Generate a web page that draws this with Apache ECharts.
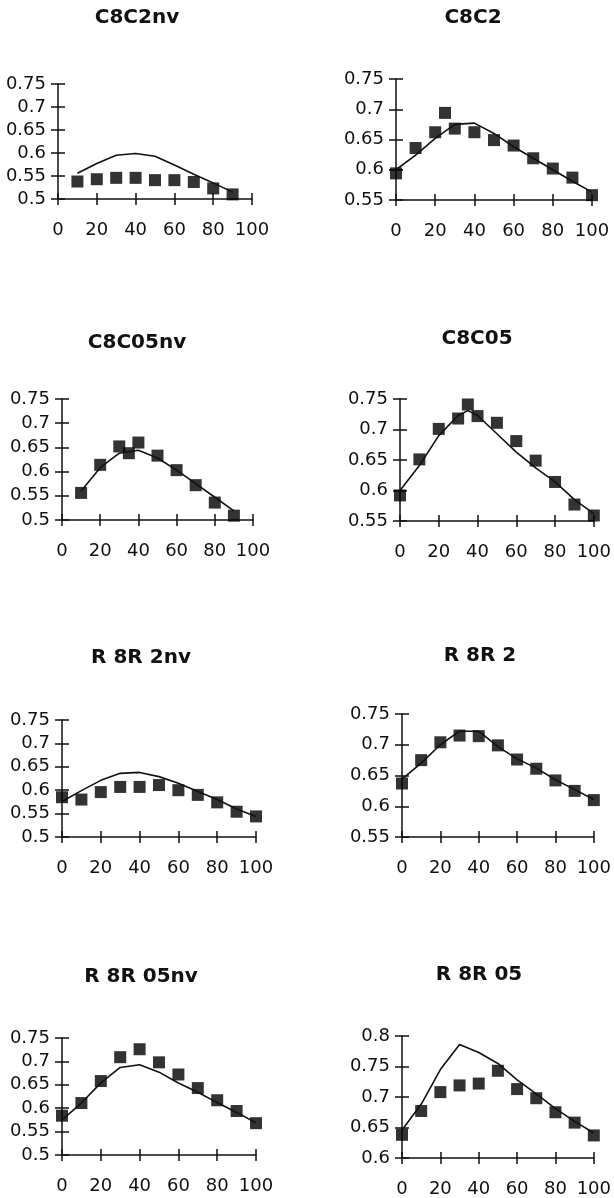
<!DOCTYPE html>
<html>
<head>
<meta charset="utf-8">
<script src="https://cdn.jsdelivr.net/npm/echarts@6/dist/echarts.min.js"></script>
<style>
html,body{margin:0;padding:0;background:#fff;}
#chart{width:614px;height:1198px;}
</style>
</head>
<body>
<div id="chart"></div>
<script>
// ---- data ----
const titles = ['C8C2nv', 'C8C2', 'C8C05nv', 'C8C05', 'R 8R 2nv', 'R 8R 2', 'R 8R 05nv', 'R 8R 05'];
const xTickLabels = [0, 20, 40, 60, 80, 100];

const c8c2nvPtX = [10, 20, 30, 40, 50, 60, 70, 80, 90];
const c8c2nvPtY = [0.538, 0.543, 0.546, 0.546, 0.541, 0.541, 0.537, 0.523, 0.510];
const c8c2nvLnX = [10, 20, 30, 40, 50, 60, 70, 80, 90];
const c8c2nvLnY = [0.556, 0.577, 0.595, 0.599, 0.593, 0.574, 0.554, 0.535, 0.515];

const c8c2PtX = [0, 10, 20, 25, 30, 40, 50, 60, 70, 80, 90, 100];
const c8c2PtY = [0.594, 0.636, 0.662, 0.694, 0.668, 0.662, 0.649, 0.640, 0.619, 0.602, 0.587, 0.558];
const c8c2LnX = [0, 10, 20, 30, 40, 50, 60, 70, 80, 90, 100];
const c8c2LnY = [0.600, 0.624, 0.652, 0.675, 0.677, 0.660, 0.638, 0.619, 0.600, 0.581, 0.563];

const c8c05nvPtX = [10, 20, 30, 35, 40, 50, 60, 70, 80, 90];
const c8c05nvPtY = [0.556, 0.614, 0.652, 0.638, 0.660, 0.633, 0.603, 0.572, 0.536, 0.509];
const c8c05nvLnX = [10, 20, 30, 40, 50, 60, 70, 80, 90];
const c8c05nvLnY = [0.560, 0.608, 0.638, 0.644, 0.628, 0.603, 0.575, 0.547, 0.519];

const c8c05PtX = [0, 10, 20, 30, 35, 40, 50, 60, 70, 80, 90, 100];
const c8c05PtY = [0.592, 0.651, 0.701, 0.718, 0.741, 0.722, 0.711, 0.681, 0.649, 0.614, 0.577, 0.559];
const c8c05LnX = [0, 10, 20, 30, 35, 40, 50, 60, 70, 80, 90, 100];
const c8c05LnY = [0.600, 0.641, 0.690, 0.723, 0.731, 0.723, 0.693, 0.663, 0.637, 0.614, 0.585, 0.562];

const r8r2nvPtX = [0, 10, 20, 30, 40, 50, 60, 70, 80, 90, 100];
const r8r2nvPtY = [0.585, 0.580, 0.596, 0.607, 0.607, 0.611, 0.600, 0.590, 0.574, 0.554, 0.544];
const r8r2nvLnX = [0, 10, 20, 30, 40, 50, 60, 70, 80, 90, 100];
const r8r2nvLnY = [0.576, 0.599, 0.621, 0.636, 0.638, 0.629, 0.615, 0.597, 0.580, 0.560, 0.544];

const r8r2PtX = [0, 10, 20, 30, 40, 50, 60, 70, 80, 90, 100];
const r8r2PtY = [0.637, 0.675, 0.704, 0.715, 0.714, 0.699, 0.676, 0.661, 0.642, 0.625, 0.610];
const r8r2LnX = [0, 10, 20, 30, 40, 50, 60, 70, 80, 90, 100];
const r8r2LnY = [0.644, 0.670, 0.700, 0.722, 0.722, 0.697, 0.677, 0.662, 0.643, 0.627, 0.611];

const r8r05nvPtX = [0, 10, 20, 30, 40, 50, 60, 70, 80, 90, 100];
const r8r05nvPtY = [0.584, 0.611, 0.658, 0.709, 0.726, 0.698, 0.672, 0.643, 0.617, 0.594, 0.568];
const r8r05nvLnX = [0, 10, 20, 30, 40, 50, 60, 70, 80, 90, 100];
const r8r05nvLnY = [0.575, 0.611, 0.654, 0.687, 0.693, 0.677, 0.654, 0.634, 0.612, 0.591, 0.569];

const r8r05PtX = [0, 10, 20, 30, 40, 50, 60, 70, 80, 90, 100];
const r8r05PtY = [0.638, 0.677, 0.708, 0.719, 0.722, 0.743, 0.713, 0.698, 0.675, 0.658, 0.637];
const r8r05LnX = [0, 10, 20, 30, 40, 50, 60, 70, 80, 90, 100];
const r8r05LnY = [0.646, 0.688, 0.745, 0.786, 0.773, 0.755, 0.728, 0.705, 0.681, 0.660, 0.641];

const yRanges = [[0.5, 0.75], [0.55, 0.75], [0.5, 0.75], [0.55, 0.75], [0.5, 0.75], [0.55, 0.75], [0.5, 0.75], [0.6, 0.8]];

const pointsX = [c8c2nvPtX, c8c2PtX, c8c05nvPtX, c8c05PtX, r8r2nvPtX, r8r2PtX, r8r05nvPtX, r8r05PtX];
const pointsY = [c8c2nvPtY, c8c2PtY, c8c05nvPtY, c8c05PtY, r8r2nvPtY, r8r2PtY, r8r05nvPtY, r8r05PtY];
const linesX = [c8c2nvLnX, c8c2LnX, c8c05nvLnX, c8c05LnX, r8r2nvLnX, r8r2LnX, r8r05nvLnX, r8r05LnX];
const linesY = [c8c2nvLnY, c8c2LnY, c8c05nvLnY, c8c05LnY, r8r2nvLnY, r8r2LnY, r8r05nvLnY, r8r05LnY];

// ---- layout ----
const grids = [
  {left: 58, top: 84, width: 194, height: 115},
  {left: 396, top: 79, width: 196, height: 121},
  {left: 62, top: 399, width: 191, height: 121},
  {left: 400, top: 399, width: 196, height: 122},
  {left: 62, top: 720, width: 194, height: 117},
  {left: 402, top: 714, width: 195, height: 123},
  {left: 62, top: 1038, width: 194, height: 117},
  {left: 402, top: 1036, width: 195, height: 123}
];
const titlePos = [[137, 18], [473, 18], [137, 343], [477, 339], [141, 658], [480, 656], [141, 977], [479, 975]];

const ink = '#111';
const labelFont = {color: ink, fontSize: 18, fontFamily: 'DejaVu Sans'};

const option = {
  backgroundColor: '#fff',
  animation: false,
  grid: [], xAxis: [], yAxis: [], series: [], graphic: []
};

grids.forEach((g, i) => {
  option.grid.push(Object.assign({containLabel: false}, g));
  const [ymin, ymax] = yRanges[i];
  const xBase = {type: 'value', gridIndex: i, position: 'bottom', min: 0, max: 100, interval: 20, splitLine: {show: false}};
  const yBase = {type: 'value', gridIndex: i, position: 'left', min: ymin, max: ymax, interval: 0.05, splitLine: {show: false}};
  option.xAxis.push(Object.assign({}, xBase, {
    axisLine: {show: true, onZero: false, lineStyle: {color: ink, width: 1.5}},
    axisTick: {show: true, inside: false, length: 6, lineStyle: {color: ink, width: 1.5}},
    axisLabel: Object.assign({margin: 22, formatter: v => xTickLabels.includes(v) ? String(v) : ''}, labelFont)
  }));
  option.xAxis.push(Object.assign({}, xBase, {
    axisLine: {show: false, onZero: false},
    axisTick: {show: true, inside: true, length: 6, lineStyle: {color: ink, width: 1.5}},
    axisLabel: {show: false}
  }));
  option.yAxis.push(Object.assign({}, yBase, {
    axisLine: {show: true, onZero: false, lineStyle: {color: ink, width: 1.5}},
    axisTick: {show: true, inside: false, length: 7, lineStyle: {color: ink, width: 1.5}},
    axisLabel: Object.assign({margin: 12}, labelFont)
  }));
  option.yAxis.push(Object.assign({}, yBase, {
    axisLine: {show: false, onZero: false},
    axisTick: {show: true, inside: true, length: 7, lineStyle: {color: ink, width: 1.5}},
    axisLabel: {show: false}
  }));
  option.series.push({
    type: 'line', xAxisIndex: 2 * i, yAxisIndex: 2 * i,
    data: linesX[i].map((x, k) => [x, linesY[i][k]]),
    symbol: 'none', smooth: false, clip: false,
    lineStyle: {color: ink, width: 1.6}
  });
  option.series.push({
    type: 'scatter', xAxisIndex: 2 * i, yAxisIndex: 2 * i,
    data: pointsX[i].map((x, k) => [x, pointsY[i][k]]),
    symbol: 'rect', symbolSize: 12, clip: false,
    itemStyle: {color: '#000'}
  });
  option.graphic.push({
    type: 'text', x: titlePos[i][0], y: titlePos[i][1],
    style: {text: titles[i], fill: ink, font: 'bold 20px "DejaVu Sans"', textAlign: 'center', textVerticalAlign: 'middle'}
  });
});

const chart = echarts.init(document.getElementById('chart'), null, {renderer: 'canvas'});
chart.setOption(option);
</script>
</body>
</html>
